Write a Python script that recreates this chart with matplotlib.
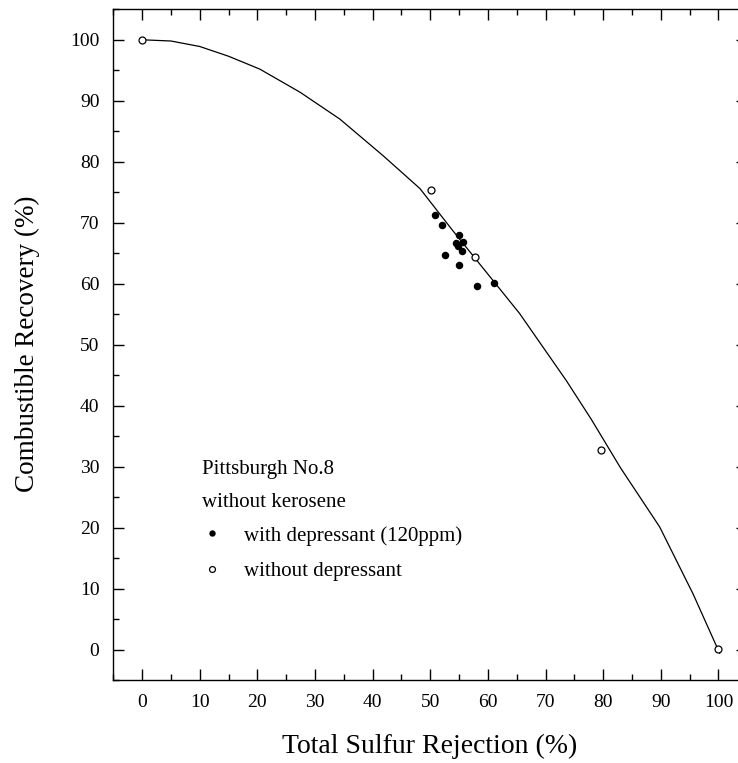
import matplotlib
matplotlib.use("Agg")
import matplotlib.pyplot as plt
from matplotlib.ticker import MultipleLocator

plt.rcParams['font.family'] = ['Liberation Serif', 'DejaVu Serif']

# -------------------------
# Data
# -------------------------
# with depressant (120ppm) - filled circles
dep_x = [50.8, 52.0, 54.9, 54.5, 55.7, 54.8, 55.5, 52.6, 55.0, 61.0, 58.1]
dep_y = [71.3, 69.6, 68.0, 66.6, 66.9, 66.1, 65.3, 64.7, 63.0, 60.1, 59.6]

# without depressant - open circles
nodep_x = [0.0, 50.2, 57.7, 79.7, 99.9]
nodep_y = [100.0, 75.3, 64.3, 32.8, 0.1]

# fitted curve (polyline)
curve_x = [0, 5, 10, 15, 20.4, 27.4, 34.3, 41.8, 48.2, 53.9, 60.9, 65.5, 73.6, 77.9, 83.0, 89.8, 95.6, 100.2]
curve_y = [100, 99.8, 98.9, 97.3, 95.2, 91.4, 87.0, 81.0, 75.6, 68.7, 60.5, 55.1, 44.1, 37.8, 29.8, 20.1, 9.1, -0.6]

W, H = 738, 763
fig = plt.figure(figsize=(W / 100, H / 100), dpi=100)
ax = fig.add_axes([113.3 / W, 83 / H, 634 / W, 670.7 / H])

ax.plot(curve_x, curve_y, color="black", lw=0.9, zorder=2)
ax.plot(dep_x, dep_y, "o", color="black", ms=5.4, mew=0, zorder=3,
        label="with depressant (120ppm)")
ax.plot(nodep_x, nodep_y, "o", mfc="white", mec="black", ms=5.0, mew=0.9, zorder=3,
        label="without depressant")

ax.set_xlim(-5, 105)
ax.set_ylim(-5, 105)
ax.xaxis.set_major_locator(MultipleLocator(10))
ax.xaxis.set_minor_locator(MultipleLocator(5))
ax.yaxis.set_major_locator(MultipleLocator(10))
ax.yaxis.set_minor_locator(MultipleLocator(5))

for s in ax.spines.values():
    s.set_linewidth(1.0)
ax.tick_params(which="both", direction="in", top=True, right=True, width=1.0,
               labelsize=14, pad=10)
ax.tick_params(which="major", length=8.2)
ax.tick_params(which="minor", length=4.2)

# axis titles
fig.text(430 / W, 1 - 746 / H, "Total Sulfur Rejection (%)", ha="center", va="center",
         fontsize=20)
fig.text(27 / W, 1 - 344 / H, "Combustible Recovery (%)", ha="center", va="center",
         rotation=90, fontsize=19.5)

# legend block
fig.text(201.7 / W, 1 - 474 / H, "Pittsburgh No.8", ha="left", va="baseline", fontsize=15)
fig.text(201.7 / W, 1 - 507 / H, "without kerosene", ha="left", va="baseline", fontsize=15)
ax.legend(loc="upper left", bbox_to_anchor=(201.7 / W, 1 - 526 / H),
          bbox_transform=fig.transFigure, frameon=False, fontsize=15,
          borderpad=0, borderaxespad=0, handlelength=0.97, handletextpad=1.05,
          labelspacing=0.75, markerscale=0.85)

fig.savefig("out.png", dpi=100)
